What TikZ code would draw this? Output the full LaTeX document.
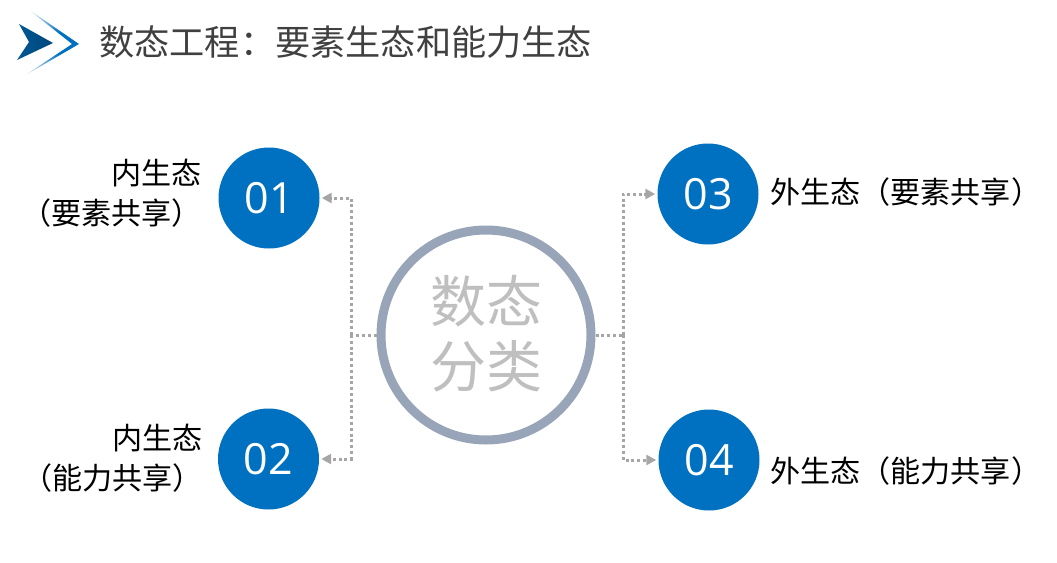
\documentclass[tikz,border=0pt]{standalone}
\usepackage{fontspec}
\setmainfont{Noto Sans CJK SC}
\newfontfamily\latinf{Open Sans}
\usetikzlibrary{arrows.meta}
\newcommand{\flp}{\char"FF08\relax}
\newcommand{\frp}{\char"FF09\relax}
\newcommand{\fcl}{\char"FF1A\relax}
\definecolor{bluenum}{HTML}{0070C0}
\definecolor{ringc}{HTML}{98A4B8}
\definecolor{linkc}{HTML}{A6A6A6}
\definecolor{titlec}{HTML}{404040}
\definecolor{centerc}{HTML}{BFBFBF}
\pgfdeclareverticalshading{chevfade}{100bp}{color(0bp)=(white); color(25bp)=(white); color(42bp)=(bluenum); color(58bp)=(bluenum); color(75bp)=(white); color(100bp)=(white)}
\pgfdeclarehorizontalshading{arrowfill}{100bp}{color(0bp)=(bluenum!80!black); color(25bp)=(bluenum!80!black); color(50bp)=(bluenum!70!black); color(75bp)=(bluenum!65!black); color(100bp)=(bluenum!65!black)}
\tikzset{
  numc/.style={circle,fill=bluenum,minimum size=101pt,inner sep=0pt,text=white,font=\latinf\fontsize{43}{46}\selectfont},
  lab/.style={inner sep=0pt,text=black,font=\fontsize{30.1}{40}\selectfont},
  link/.style={draw=linkc,line width=3pt,dash pattern=on 3pt off 2.8pt,shorten >=2pt,-{Triangle[length=10pt,width=10pt]}},
  stub/.style={draw=linkc,line width=3pt,dash pattern=on 3pt off 2.8pt}
}
\begin{document}
\begin{tikzpicture}[x=1pt,y=-1pt]
\useasboundingbox (0,0) rectangle (1057,562);
% logo
\shade[shading=chevfade]
  (28,9) -- (79,44) -- (24,76) -- (72,44) -- cycle;
\shade[shading=arrowfill]
  (19,24) -- (53,43) -- (17,60) -- (29,42) -- cycle;
\node[anchor=west,inner sep=0pt,text=titlec,font=\fontsize{35.2}{40}\selectfont] (title) at (99,42.5) {数态工程\fcl 要素生态和能力生态};
% central circle
\node[circle,draw=ringc,line width=9pt,minimum size=210pt,inner sep=0pt] (hub) at (486,335) {};
\node[inner sep=0pt,align=center,text=centerc,font=\fontsize{56}{65}\selectfont] (hubtext) at (486,333.5) {数态\\分类};
% number circles
\node[numc] (n1) at (269,198) {01};
\node[numc] (n2) at (268.5,459) {02};
\node[numc] (n3) at (708,194) {03};
\node[numc] (n4) at (709,460) {04};
% labels
\node[lab,anchor=east,align=right] (l1) at (202,193) {内生态\\\flp 要素共享\frp};
\node[lab,anchor=east,align=right] (l2) at (203,458) {内生态\\\flp 能力共享\frp};
\node[lab,anchor=west] (l3) at (770,192) {外生态\flp 要素共享\frp};
\node[lab,anchor=west] (l4) at (770,471) {外生态\flp 能力共享\frp};
% connectors
\coordinate (busL) at (351,335);
\coordinate (busR) at (623,335);
\draw[stub] (hub.west) -- (busL);
\draw[stub] (hub.east) -- (busR);
\draw[link] (busL) |- (n1.east);
\draw[link] (busL) |- (n2.east);
\draw[link] (busR) |- (n3.west);
\draw[link] (busR) |- (n4.west);
\end{tikzpicture}
\end{document}
